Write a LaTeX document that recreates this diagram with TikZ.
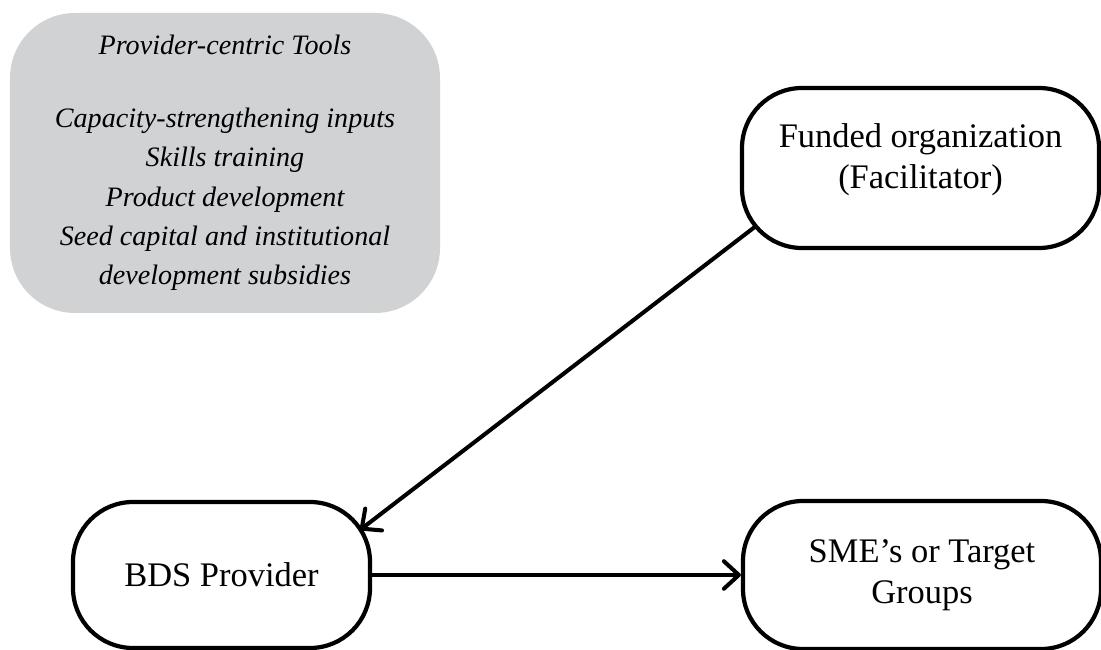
\documentclass[tikz,border=0pt]{standalone}
\usepackage{fontspec}
\setmainfont{Liberation Serif}
\usetikzlibrary{arrows.meta}
\definecolor{toolgray}{RGB}{209,210,212}
\tikzset{
  actor/.style={draw,line width=2.4pt,rounded corners=1.2cm,align=center,font=\fontsize{19.6}{23.3}\selectfont},
  link/.style={line width=2.3pt,-{Straight Barb[length=0.3cm,width=0.55cm,round]}},
}
\begin{document}
\begin{tikzpicture}
  \useasboundingbox (0,0) rectangle (22.02,-13);
  \node[fill=toolgray,rounded corners=1.3cm,minimum width=8.6cm,minimum height=6cm,align=center,font=\itshape\fontsize{16}{22.4}\selectfont] (tools) at (4.5,-3.26) {Provider-centric Tools\\[19pt] Capacity-strengthening inputs\\ Skills training\\ Product development\\ Seed capital and institutional\\ development subsidies};
  \node[actor,minimum width=7.14cm,minimum height=3.2cm] (fund) at (18.41,-3.36) {Funded organization\\(Facilitator)\\[-0.36cm]\mbox{}};
  \node[actor,minimum width=5.94cm,minimum height=2.92cm] (bds) at (4.43,-11.5) {BDS Provider};
  \node[actor,minimum width=7.16cm,minimum height=2.96cm] (sme) at (18.44,-11.5) {SME’s or Target\\Groups};
  \draw[link] ([shift={(0.32,0.48)}]fund.south west) -- ([shift={(-0.24,-0.6)}]bds.north east);
  \draw[link] (bds.east) -- (sme.west);
\end{tikzpicture}
\end{document}
